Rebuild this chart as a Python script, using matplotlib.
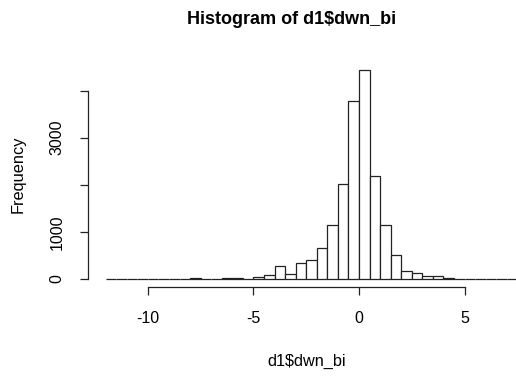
import matplotlib
matplotlib.use("Agg")
import matplotlib.pyplot as plt

plt.rcParams['font.family'] = ['Liberation Sans', 'DejaVu Sans']

# histogram bins (width 0.5) and counts
bin_edges = [x * 0.5 for x in range(-24, 17)]
counts = [0, 0, 0, 0, 0, 0, 0, 0,          # -12 .. -8
          15, 0, 0, 10, 10, 0,             # -8 .. -5
          35, 84, 281, 112, 344, 393,      # -5 .. -2
          667, 1144, 2021, 3790,           # -2 .. 0
          4435, 2189, 1144, 505,           # 0 .. 2
          175, 119, 56, 56, 20,            # 2 .. 4.5
          0, 0, 0, 0, 0, 0, 0]             # 4.5 .. 8
x_ticks = [-10, -5, 0, 5]
y_ticks = [0, 1000, 2000, 3000, 4000]
y_labels = ['0', '1000', '', '3000', '']

W, H = 516, 377
fig = plt.figure(figsize=(W / 100, H / 100), dpi=100)
ax = fig.add_axes([88 / W, (H - 287.3) / H, (W - 88) / W, (287.3 - 61.8) / H])

ax.bar(bin_edges[:-1], counts, width=0.5, align='edge',
       facecolor='white', edgecolor='#222222', linewidth=0.9)

ax.set_xlim(-12.84, 7.44)
ax.set_ylim(-177, 4612)

for s in ['top', 'right']:
    ax.spines[s].set_visible(False)
ax.spines['left'].set_bounds(0, 4000)
ax.spines['bottom'].set_bounds(-10, 5)
for s in ['left', 'bottom']:
    ax.spines[s].set_color('#222222')
    ax.spines[s].set_linewidth(0.9)

ax.set_xticks(x_ticks)
ax.set_xticklabels([str(t) for t in x_ticks])
ax.set_yticks(y_ticks)
ax.set_yticklabels(y_labels, rotation=90, va='center')
ax.tick_params(axis='both', direction='out', length=6, width=0.9,
               color='#222222', labelsize=11.5, pad=11)

fig.text(292 / W, 1 - 20 / H, 'Histogram of d1$dwn_bi', ha='center', va='center',
         fontsize=13, fontweight='bold')
fig.text(307 / W, 1 - 361 / H, 'd1$dwn_bi', ha='center', va='center', fontsize=11.7)
fig.text(18 / W, 1 - 174 / H, 'Frequency', ha='center', va='center',
         rotation=90, fontsize=11.8)

fig.savefig('out.png', dpi=100)
